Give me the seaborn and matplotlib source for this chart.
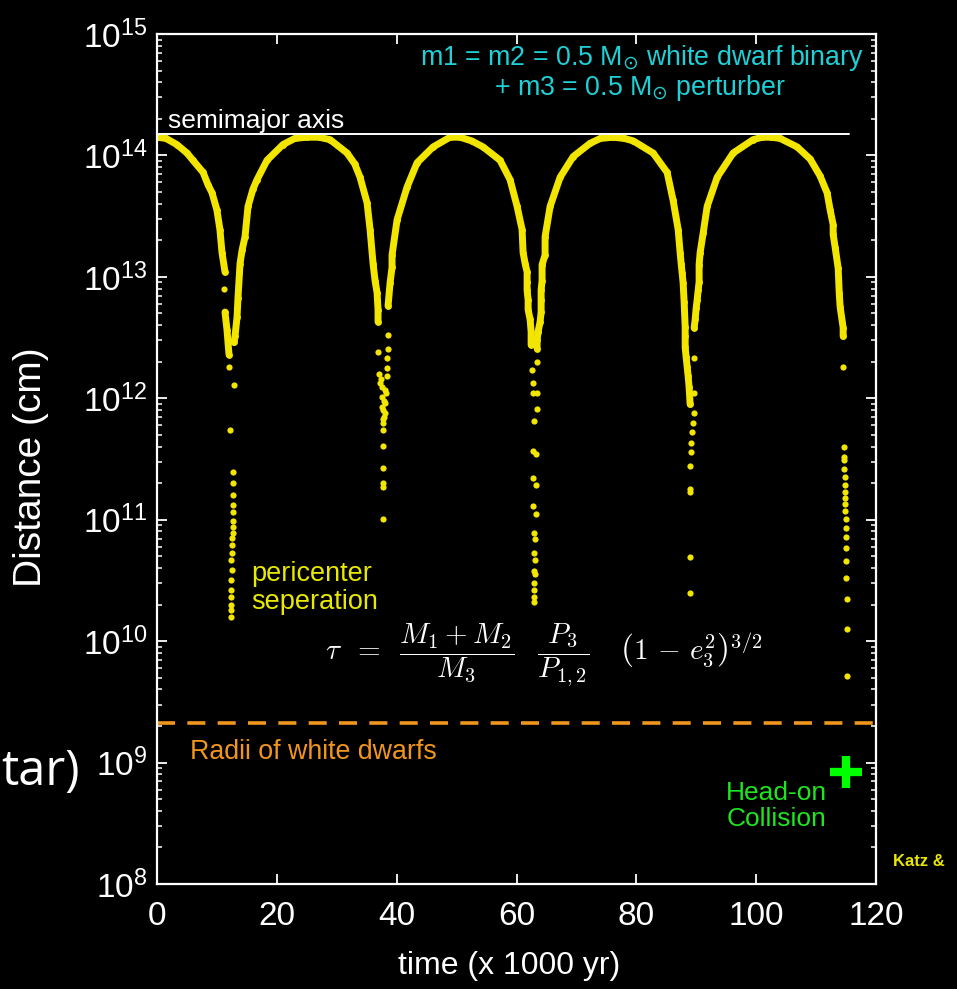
import numpy as np
import pandas as pd
import matplotlib
matplotlib.use("Agg")
import matplotlib.pyplot as plt
import seaborn as sns
from matplotlib.ticker import LogLocator, FixedLocator, NullFormatter, FixedFormatter

# ---------------- data (time in kyr, log10 of separation in cm) ----------------
# continuous parts of the pericenter-separation curve
seg1_t = [0.0, 1.5, 3.3, 5.0, 6.0, 7.7, 8.5, 9.2, 10.0, 10.5, 10.85, 11.35]
seg1_L = [14.15, 14.14, 14.09, 14.02, 13.96, 13.86, 13.76, 13.69, 13.55, 13.39, 13.20, 13.04]

seg2_t = [11.35, 11.69, 11.85, 12.02]
seg2_L = [12.71, 12.56, 12.46, 12.36]

seg3_t = [12.85, 13.02, 13.36, 13.52, 13.86, 14.2, 14.69, 15.19, 16.0, 16.69, 18.36, 21.04, 23.0,
          25.04, 27.0, 28.88, 31.72, 33.0, 33.89, 35.06, 35.56, 36.06, 36.39, 36.73, 36.89, 36.89]
seg3_L = [12.46, 12.51, 12.67, 12.83, 13.11, 13.22, 13.33, 13.58, 13.72, 13.80, 13.96, 14.09, 14.14,
          14.15, 14.15, 14.13, 14.02, 13.93, 13.82, 13.61, 13.39, 13.11, 12.97, 12.87, 12.73, 12.63]

seg4_t = [38.56, 38.90, 39.23, 39.23, 40.07, 41.74, 43.41, 46.08, 48.91, 50.58, 52.5, 54.42, 57.26,
          58.93, 60.10, 60.93, 61.10, 61.44, 61.77, 61.77, 61.77, 61.94, 61.94, 62.27, 62.44, 62.44]
seg4_L = [12.76, 12.95, 13.08, 13.18, 13.47, 13.74, 13.94, 14.07, 14.15, 14.15, 14.12, 14.07, 13.96,
          13.80, 13.58, 13.39, 13.20, 13.11, 13.04, 12.96, 12.89, 12.81, 12.73, 12.65, 12.55, 12.44]

seg5_t = [63.44, 63.44, 63.61, 63.94, 64.11, 64.11, 64.11, 64.27, 64.27, 64.77, 64.77, 65.61, 67.28,
          69.45, 72.29, 74.0, 76.13, 78.0, 79.47, 82.80, 85.14, 86.14, 86.98, 87.31, 87.48, 87.65,
          87.81, 87.98, 88.15, 88.15, 88.15, 88.31, 88.48, 88.65, 88.81, 88.98]
seg5_L = [12.41, 12.48, 12.55, 12.63, 12.71, 12.81, 12.89, 12.97, 13.10, 13.18, 13.33, 13.58, 13.82,
          13.99, 14.10, 14.14, 14.15, 14.14, 14.12, 14.02, 13.86, 13.63, 13.39, 13.20, 13.11, 13.03,
          12.95, 12.79, 12.59, 12.51, 12.42, 12.34, 12.26, 12.18, 12.09, 11.95]

seg6_t = [89.65, 89.82, 89.98, 90.15, 90.32, 90.48, 90.48, 90.65, 91.15, 91.82, 93.49, 96.16, 99.50,
          101.0, 102.5, 104.0, 106.84, 109.02, 110.68, 111.85, 112.35, 112.85, 112.85, 113.19, 113.69,
          113.86, 114.02, 114.52, 114.52]
seg6_L = [12.58, 12.65, 12.74, 12.81, 12.89, 12.96, 13.10, 13.20, 13.36, 13.58, 13.82, 14.02, 14.13,
          14.15, 14.15, 14.14, 14.07, 13.97, 13.83, 13.69, 13.55, 13.43, 13.35, 13.24, 13.07,
          12.87, 12.75, 12.58, 12.51]

# isolated points near each pericenter passage
dip1_t = [11.19, 13.69, 12.02, 12.85, 12.19, 12.69, 12.69, 12.61, 12.61, 12.61, 12.61, 12.61, 12.61,
          12.52, 12.52, 12.44, 12.36, 12.44, 12.36, 12.36, 12.36, 12.36, 12.36, 12.36]
dip1_L = [12.90, 13.03, 12.26, 12.11, 11.74, 11.39, 11.30, 11.20, 11.12, 11.06, 10.99, 10.94, 10.89,
          10.85, 10.79, 10.73, 10.67, 10.59, 10.50, 10.42, 10.36, 10.30, 10.26, 10.20]

dip2_t = [38.56, 36.89, 38.56, 38.40, 38.40, 37.06, 38.40, 37.23, 37.40, 38.06, 37.56, 38.23, 37.56,
          37.90, 38.06, 37.56, 37.73, 38.06, 37.90, 37.73, 37.73, 37.73, 37.73, 37.73, 37.73, 37.73, 37.73]
dip2_L = [12.52, 12.38, 12.41, 12.33, 12.25, 12.20, 12.18, 12.13, 12.16, 12.07, 12.09, 12.04, 12.01,
          11.98, 11.96, 11.93, 11.90, 11.88, 11.85, 11.83, 11.80, 11.74, 11.61, 11.43, 11.30, 11.27, 11.01]

dip3_t = [63.44, 62.60, 62.77, 63.44, 62.77, 63.44, 62.94, 62.77, 63.27, 62.77, 63.27, 62.77, 63.27,
          62.94, 63.11, 62.94, 63.11, 62.94, 63.11, 62.94, 62.94, 62.94, 62.94]
dip3_L = [12.30, 12.23, 12.13, 12.04, 12.04, 11.91, 11.81, 11.57, 11.54, 11.34, 11.29, 11.11, 11.05,
          10.89, 10.84, 10.73, 10.67, 10.58, 10.55, 10.48, 10.42, 10.36, 10.32]

dip4_t = [89.65, 89.65, 89.65, 89.48, 89.32, 89.15, 89.15, 88.98, 88.98, 88.98, 88.98, 88.98]
dip4_L = [12.33, 12.04, 11.88, 11.80, 11.72, 11.63, 11.56, 11.44, 11.25, 11.23, 10.69, 10.40]

dip5_t = [114.52, 114.69, 114.69, 114.69, 114.69, 114.86, 114.86, 114.86, 114.86, 114.86, 114.86,
          115.02, 115.02, 115.02, 115.02, 115.02, 115.02, 115.19, 115.19, 115.19]
dip5_L = [12.26, 11.60, 11.52, 11.49, 11.42, 11.35, 11.29, 11.23, 11.18, 11.13, 11.07,
          11.01, 10.93, 10.86, 10.77, 10.66, 10.52, 10.35, 10.10, 9.71]

semimajor_axis = 1.5e14      # cm
wd_radius = 2.12e9           # cm
collision_t = [115.0]
collision_d = [8.3e8]

x_ticks = [0, 20, 40, 60, 80, 100, 120]
y_exponents = [8, 9, 10, 11, 12, 13, 14, 15]

# ---------------- build tables ----------------
segs = [(seg1_t, seg1_L), (seg2_t, seg2_L), (seg3_t, seg3_L), (seg4_t, seg4_L),
        (seg5_t, seg5_L), (seg6_t, seg6_L)]
curve = pd.concat([pd.DataFrame({"t": t, "d": 10.0 ** np.array(L), "seg": i})
                   for i, (t, L) in enumerate(segs)], ignore_index=True)
dots = pd.concat([pd.DataFrame({"t": t, "d": 10.0 ** np.array(L)})
                  for t, L in [(dip1_t, dip1_L), (dip2_t, dip2_L), (dip3_t, dip3_L),
                               (dip4_t, dip4_L), (dip5_t, dip5_L)]], ignore_index=True)

# ---------------- figure ----------------
W, H = 957, 989
sns.set_theme(style="dark")
plt.rcParams["font.family"] = ["Liberation Sans", "DejaVu Sans"]
plt.rcParams["axes.facecolor"] = "black"
plt.rcParams["figure.facecolor"] = "black"

fig = plt.figure(figsize=(W / 100, H / 100), dpi=100)
fx = lambda px: px / W
fy = lambda py: 1 - py / H
ax = fig.add_axes([fx(157), fy(884), fx(876) - fx(157), fy(34) - fy(884)])
ax.set_facecolor("black")

YEL = "#f2e600"
sns.lineplot(data=curve, x="t", y="d", units="seg", estimator=None, sort=False,
             color=YEL, lw=5.0, ax=ax, legend=False, solid_capstyle="round")
sns.scatterplot(data=curve, x="t", y="d", color=YEL, s=24, linewidth=0, ax=ax, legend=False)
sns.scatterplot(data=dots, x="t", y="d", color=YEL, s=20, linewidth=0, ax=ax, legend=False)

ax.set_yscale("log")
ax.set_xlim(0, 120)
ax.set_ylim(1e8, 1e15)

# semimajor axis line and white-dwarf radius line
ax.plot([0, 115.5], [semimajor_axis, semimajor_axis], color="white", lw=1.4)
ax.axhline(wd_radius, color="#f0961e", lw=2.6, dashes=(5.0, 3.4))

# collision marker
sns.scatterplot(x=collision_t, y=collision_d, marker="+", s=520, linewidth=6,
                color="#00ff00", ax=ax, legend=False)

# ticks
ax.xaxis.set_major_locator(FixedLocator(x_ticks))
ax.set_xticklabels([str(v) for v in x_ticks])
ax.yaxis.set_major_locator(FixedLocator([10.0 ** e for e in y_exponents]))
ax.yaxis.set_major_formatter(FixedFormatter([r"$\mathregular{10^{%d}}$" % e for e in y_exponents]))
ax.yaxis.set_minor_locator(LogLocator(base=10, subs=np.arange(2, 10), numticks=20))
ax.yaxis.set_minor_formatter(NullFormatter())
ax.tick_params(which="both", direction="in", top=True, right=True, bottom=True, left=True,
               color="white", labelcolor="white")
ax.tick_params(which="major", length=7, width=1.3, labelsize=24)
ax.tick_params(which="minor", length=3.5, width=1.1)
ax.tick_params(axis="x", pad=12)
ax.tick_params(axis="y", pad=7)
for s in ax.spines.values():
    s.set_color("white")
    s.set_linewidth(1.6)
ax.set_xlabel("")
ax.set_ylabel("")
ax.grid(False)

# axis titles
fig.text(fx(31), fy(467), "Distance (cm)", rotation=90, ha="center", va="center",
         color="white", fontsize=28)
fig.text(fx(509), fy(966), "time (x 1000 yr)", ha="center", va="center",
         color="white", fontsize=23)

# annotations
CYAN = "#1fd0d6"
fig.text(fx(864), fy(58), r"m1 = m2 = 0.5 M$_{\odot}$ white dwarf binary", ha="right",
         va="center", color=CYAN, fontsize=19.3)
fig.text(fx(640), fy(88), r"+ m3 = 0.5 M$_{\odot}$ perturber", ha="center",
         va="center", color=CYAN, fontsize=19.3)
fig.text(fx(168), fy(121), "semimajor axis", ha="left", va="center", color="white", fontsize=19)
fig.text(fx(251), fy(588), "pericenter\nseperation", ha="left", va="center", color="#e8e800",
         fontsize=19.5, linespacing=1.12)
fig.text(fx(544), fy(655),
         r"$\tau\;\;=\;\;\dfrac{M_1 + M_2}{M_3}\;\;\;\dfrac{P_3}{P_{1,2}}\;\;\;\;\left(1\,-\,e_3^2\right)^{3/2}$",
         ha="center", va="center", color="white", fontsize=21, math_fontfamily="cm")
fig.text(fx(190), fy(752), "Radii of white dwarfs", ha="left", va="center", color="#f0961e",
         fontsize=19.3)
fig.text(fx(776), fy(806), "Head-on\nCollision", ha="center", va="center", color="#1ee61e",
         fontsize=19, linespacing=1.15)
fig.text(fx(893), fy(862), "Katz &", ha="left", va="center", color="#e8e800",
         fontsize=12, fontweight="bold")

# slide fragment at the left edge
fig.text(fx(1), fy(772), "tar)", ha="left", va="center", color="white", fontsize=35,
         family=["Open Sans", "DejaVu Sans"])

fig.savefig("out.png", dpi=100, facecolor="black")
